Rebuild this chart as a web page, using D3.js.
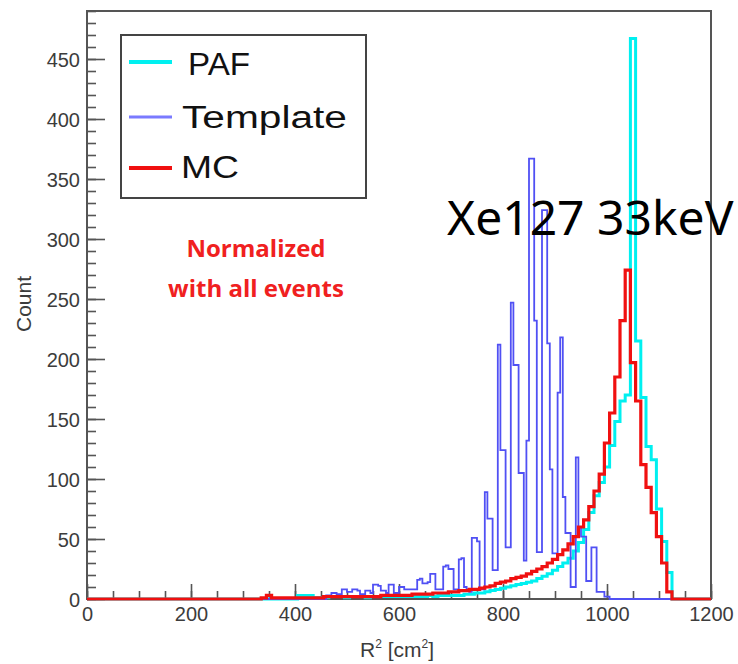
<!DOCTYPE html>
<html>
<head>
<meta charset="utf-8">
<script src="https://cdn.jsdelivr.net/npm/d3@7"></script>
<style>
  html, body { margin: 0; padding: 0; background: #fff; }
  svg { display: block; }
</style>
</head>
<body>
<svg id="chart" width="738" height="664"></svg>
<script>
// ---------- data ----------
const xTickLabels = [0, 200, 400, 600, 800, 1000, 1200];
const yTickLabels = [0, 50, 100, 150, 200, 250, 300, 350, 400, 450];

// PAF histogram: bins of 10 starting at 395
const pafStart = 395, pafWidth = 10;
const pafCounts = [0, 3, 3, 3, 1, 1, 1, 2, 2, 2, 1, 2, 2, 2, 1, 2, 2, 2, 2, 2, 2, 2, 2, 2, 2, 2, 3, 2, 3, 3,
  3, 3, 3, 4, 4, 5, 5, 6, 7, 8, 9, 10, 11, 12, 13, 14, 15, 17, 19, 21, 24, 27, 30, 34, 40, 47, 58, 72, 86, 97,
  110, 128, 148, 165, 170, 467, 215, 168, 127, 116, 75, 48, 22];

// Template histogram: bins of 5 starting at 460
const tplStart = 460, tplWidth = 5;
const tplCounts = [3, 3, 5, 5, 4, 4, 8, 8, 6, 6, 8, 8, 7, 4, 4, 7, 7, 5, 12, 12, 11, 7, 7, 5, 12, 12, 5, 5,
  10, 10, 8, 8, 8, 8, 8, 16, 17, 13, 13, 14, 21, 21, 8, 8, 8, 27, 28, 25, 25, 8, 8, 33, 34, 10, 8, 6,
  51, 51, 48, 8, 8, 89, 67, 67, 24, 24, 212, 124, 124, 43, 43, 247, 195, 195, 105, 105, 32, 132, 367, 367,
  232, 39, 39, 324, 324, 213, 108, 38, 38, 172, 218, 85, 55, 55, 10, 10, 118, 60, 52, 52, 15, 15, 43, 43,
  6, 6, 6, 2, 2];

// MC histogram: bins of 10 starting at 325
const mcStart = 325, mcWidth = 10;
const mcCounts = [0, 1, 3, 1, 1, 1, 1, 1, 1, 1, 1, 1, 1, 2, 2, 2, 2, 2, 2, 2, 2, 2, 2, 2, 3, 3, 3, 3, 3, 3,
  4, 4, 4, 4, 5, 5, 5, 6, 6, 7, 7, 8, 8, 9, 10, 11, 13, 14, 15, 17, 18, 19, 21, 23, 25, 27, 30, 33, 37, 41,
  46, 52, 60, 66, 77, 90, 104, 130, 155, 185, 232, 274, 197, 165, 112, 93, 72, 52, 30, 6];

const seriesNames = ["PAF", "Template", "MC"];
const seriesColors = ["#00f0f0", "#5050f4", "#f01010"];

// ---------- layout ----------
const svg = d3.select("#chart");
const x = d3.scaleLinear().domain([0, 1200]).range([87, 711]);
const y = d3.scaleLinear().domain([0, 490]).range([599, 11]);

const axisFont = "'Liberation Sans', Arial, sans-serif";

// frame
svg.append("rect")
  .attr("x", x(0)).attr("y", y(490))
  .attr("width", x(1200) - x(0)).attr("height", y(0) - y(490))
  .attr("fill", "none").attr("stroke", "#555").attr("stroke-width", 2);

const yMinor = svg.append("g").attr("transform", `translate(${x(0)},0)`)
  .call(d3.axisLeft(y).tickValues(d3.range(0, 491, 10)).tickSizeInner(-9).tickSizeOuter(0).tickFormat(""));
const yMajor = svg.append("g").attr("transform", `translate(${x(0)},0)`)
  .call(d3.axisLeft(y).tickValues(yTickLabels).tickSizeInner(-18).tickSizeOuter(0).tickPadding(7)
    .tickFormat(d3.format("d")));
const xMinor = svg.append("g").attr("transform", `translate(0,${y(0)})`)
  .call(d3.axisBottom(x).tickValues(d3.range(0, 1201, 50)).tickSizeInner(-8).tickSizeOuter(0).tickFormat(""));
const xMajor = svg.append("g").attr("transform", `translate(0,${y(0)})`)
  .call(d3.axisBottom(x).tickValues(xTickLabels).tickSizeInner(-15).tickSizeOuter(0).tickPadding(8)
    .tickFormat(d3.format("d")));

[yMinor, yMajor, xMinor, xMajor].forEach(g => {
  g.select(".domain").remove();
  g.selectAll(".tick line").attr("stroke", "#555").attr("stroke-width", 1.6);
  g.selectAll(".tick text").attr("fill", "#3c3c3c").attr("font-size", 20).attr("font-family", axisFont);
});
yMajor.selectAll(".tick text").attr("dy", "0.36em");

// axis titles
svg.append("text")
  .attr("transform", "translate(31,304) rotate(-90)")
  .attr("text-anchor", "middle")
  .attr("font-family", axisFont).attr("font-size", 21).attr("fill", "#3c3c3c")
  .text("Count");

const xt = svg.append("text")
  .attr("x", 397).attr("y", 657)
  .attr("text-anchor", "middle")
  .attr("font-family", axisFont).attr("font-size", 21).attr("fill", "#3c3c3c");
xt.append("tspan").text("R");
xt.append("tspan").attr("font-size", 12).attr("dy", -9).text("2");
xt.append("tspan").attr("dy", 9).text(" [cm");
xt.append("tspan").attr("font-size", 12).attr("dy", -9).text("2");
xt.append("tspan").attr("dy", 9).text("]");

// ---------- histograms ----------
svg.append("clipPath").attr("id", "plotclip").append("rect")
  .attr("x", x(0) - 2).attr("y", y(490)).attr("width", x(1200) - x(0) + 4).attr("height", y(0) - y(490) + 2);

function stepPoints(start, width, vals) {
  const pts = [[0, 0], [start, 0]];
  vals.forEach((v, i) => {
    const x0 = start + i * width;
    pts.push([x0, v], [x0 + width, v]);
  });
  const end = start + vals.length * width;
  pts.push([end, 0], [1200, 0]);
  return pts;
}
const line = d3.line().x(d => x(d[0])).y(d => y(d[1]));

const plot = svg.append("g").attr("clip-path", "url(#plotclip)");
const hists = [
  { pts: stepPoints(pafStart, pafWidth, pafCounts), color: seriesColors[0], w: 3 },
  { pts: stepPoints(tplStart, tplWidth, tplCounts), color: seriesColors[1], w: 1.8 },
  { pts: stepPoints(mcStart, mcWidth, mcCounts), color: seriesColors[2], w: 3.2 }
];
hists.forEach(h => {
  plot.append("path").attr("d", line(h.pts))
    .attr("fill", "none").attr("stroke", h.color)
    .attr("stroke-width", h.w).attr("stroke-linejoin", "miter");
});

// ---------- legend ----------
const lg = svg.append("g");
lg.append("rect").attr("x", 121).attr("y", 35).attr("width", 245).attr("height", 163)
  .attr("fill", "#fff").attr("stroke", "#444").attr("stroke-width", 2);
const legendRows = [
  { yLine: 62, yText: 75, xText: 188, len: 62, label: seriesNames[0], color: seriesColors[0], w: 4 },
  { yLine: 117, yText: 128, xText: 182, len: 165, label: seriesNames[1], color: "#7a7aff", w: 3 },
  { yLine: 168, yText: 178, xText: 181, len: 58, label: seriesNames[2], color: seriesColors[2], w: 4 }
];
legendRows.forEach(r => {
  lg.append("line").attr("x1", 129).attr("x2", 172).attr("y1", r.yLine).attr("y2", r.yLine)
    .attr("stroke", r.color).attr("stroke-width", r.w);
  lg.append("text").attr("x", r.xText).attr("y", r.yText)
    .attr("font-family", axisFont).attr("font-size", 31).attr("fill", "#111")
    .attr("textLength", r.len).attr("lengthAdjust", "spacingAndGlyphs")
    .text(r.label);
});

// ---------- annotations ----------
svg.append("text").attr("x", 256).attr("y", 257).attr("text-anchor", "middle")
  .attr("font-family", "'Open Sans', sans-serif").attr("font-weight", "bold")
  .attr("font-size", 24).attr("fill", "#f02020").text("Normalized");
svg.append("text").attr("x", 256).attr("y", 297).attr("text-anchor", "middle")
  .attr("font-family", "'Open Sans', sans-serif").attr("font-weight", "bold")
  .attr("font-size", 24).attr("fill", "#f02020").text("with all events");

svg.append("text").attr("x", 447).attr("y", 235)
  .attr("font-family", "'Noto Sans', 'Open Sans', sans-serif")
  .attr("font-size", 48).attr("fill", "#000").text("Xe127 33keV");
</script>
</body>
</html>
